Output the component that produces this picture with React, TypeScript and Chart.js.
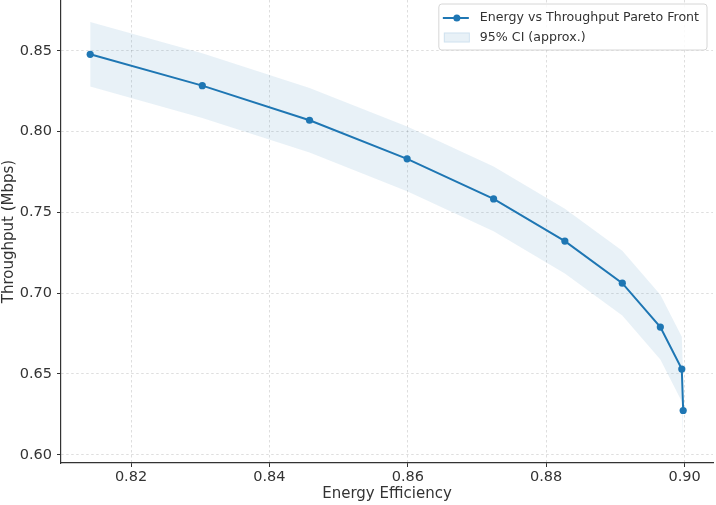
import { useEffect, useRef } from "react";
import { Chart, registerables } from "chart.js";

Chart.register(...registerables);

// Pareto front: energy efficiency vs throughput
const efficiency = [0.8141, 0.8303, 0.8458, 0.8599, 0.8724, 0.8827, 0.891, 0.8965, 0.8996, 0.8998];
const throughput = [0.8478, 0.8284, 0.807, 0.7831, 0.7583, 0.7322, 0.7062, 0.679, 0.653, 0.6274];
// approximate 95% confidence band around the front
const ciUpper = [0.8678, 0.8484, 0.827, 0.8031, 0.7783, 0.7522, 0.7262, 0.699, 0.673, 0.6474];
const ciLower = [0.8278, 0.8084, 0.787, 0.7631, 0.7383, 0.7122, 0.6862, 0.659, 0.633, 0.6074];

const xTicks = [0.82, 0.84, 0.86, 0.88, 0.9];
const yTicks = [0.6, 0.65, 0.7, 0.75, 0.8, 0.85];

const lineLabel = "Energy vs Throughput Pareto Front";
const bandLabel = "95% CI (approx.)";
const xTitle = "Energy Efficiency";
const yTitle = "Throughput (Mbps)";

const BLUE = "#1f77b4";
const BAND = "rgba(31,119,180,0.1)";
const FONT = "'DejaVu Sans', sans-serif";
const TEXT = "#333333";

const toPoints = (xs: number[], ys: number[]) => xs.map((x, i) => ({ x, y: ys[i] }));

// legend drawn inside the plot, upper-right corner
const insideLegend = {
  id: "insideLegend",
  afterDraw(chart: any) {
    const { ctx, chartArea } = chart;
    ctx.save();
    ctx.font = `12.6px ${FONT}`;
    const textW = Math.max(ctx.measureText(lineLabel).width, ctx.measureText(bandLabel).width);
    const w = textW + 49;
    const h = 46;
    const x0 = chartArea.right - 6 - w;
    const y0 = chartArea.top + 4;

    // frame
    const r = 3;
    ctx.beginPath();
    ctx.moveTo(x0 + r, y0);
    ctx.lineTo(x0 + w - r, y0);
    ctx.quadraticCurveTo(x0 + w, y0, x0 + w, y0 + r);
    ctx.lineTo(x0 + w, y0 + h - r);
    ctx.quadraticCurveTo(x0 + w, y0 + h, x0 + w - r, y0 + h);
    ctx.lineTo(x0 + r, y0 + h);
    ctx.quadraticCurveTo(x0, y0 + h, x0, y0 + h - r);
    ctx.lineTo(x0, y0 + r);
    ctx.quadraticCurveTo(x0, y0, x0 + r, y0);
    ctx.closePath();
    ctx.fillStyle = "rgba(255,255,255,0.85)";
    ctx.fill();
    ctx.strokeStyle = "#d6d6d6";
    ctx.lineWidth = 1;
    ctx.stroke();

    // line entry
    const y1 = y0 + 14;
    ctx.strokeStyle = BLUE;
    ctx.lineWidth = 2;
    ctx.beginPath();
    ctx.moveTo(x0 + 4, y1);
    ctx.lineTo(x0 + 30, y1);
    ctx.stroke();
    ctx.fillStyle = BLUE;
    ctx.beginPath();
    ctx.arc(x0 + 18, y1, 3.5, 0, Math.PI * 2);
    ctx.fill();

    // band entry
    const y2 = y0 + 33.5;
    ctx.fillStyle = BAND;
    ctx.fillRect(x0 + 5, y2 - 5, 26, 10);
    ctx.strokeStyle = "rgba(31,119,180,0.12)";
    ctx.lineWidth = 1;
    ctx.strokeRect(x0 + 5.5, y2 - 4.5, 25, 9);

    ctx.fillStyle = TEXT;
    ctx.textBaseline = "middle";
    ctx.textAlign = "left";
    ctx.fillText(lineLabel, x0 + 41, y1);
    ctx.fillText(bandLabel, x0 + 41, y2);
    ctx.restore();
  },
};

export default function App() {
  const canvasRef = useRef<HTMLCanvasElement | null>(null);

  useEffect(() => {
    const canvas = canvasRef.current;
    if (!canvas) return;

    const grid = {
      color: "rgba(0,0,0,0.13)",
      lineWidth: 1,
      tickLength: 4,
      tickColor: "#333333",
      tickWidth: 1,
      tickBorderDash: [],
    };
    const border = { color: "#333333", width: 1.2, dash: [2.5, 2.5] };

    const chart = new Chart(canvas, {
      type: "line",
      data: {
        datasets: [
          {
            label: "ci-lower",
            data: toPoints(efficiency, ciLower),
            borderWidth: 0,
            pointRadius: 0,
            fill: false,
            backgroundColor: BAND,
            borderColor: "rgba(0,0,0,0)",
          },
          {
            label: bandLabel,
            data: toPoints(efficiency, ciUpper),
            borderWidth: 0,
            pointRadius: 0,
            fill: "-1",
            backgroundColor: BAND,
            borderColor: "rgba(0,0,0,0)",
          },
          {
            label: lineLabel,
            data: toPoints(efficiency, throughput),
            borderColor: BLUE,
            backgroundColor: BLUE,
            borderWidth: 2,
            pointRadius: 3.6,
            pointBorderWidth: 0,
            pointBackgroundColor: BLUE,
            fill: false,
            tension: 0,
          },
        ],
      },
      options: {
        responsive: false,
        animation: false,
        devicePixelRatio: 1,
        layout: { autoPadding: false, padding: { top: 0, right: 3, left: 0, bottom: 0 } },
        plugins: {
          legend: { display: false },
          tooltip: { enabled: false },
        },
        scales: {
          x: {
            type: "linear",
            min: 0.80988,
            max: 0.90411,
            afterBuildTicks: (s: any) => {
              s.ticks = xTicks.map((v) => ({ value: v }));
            },
            afterFit: (s: any) => {
              s.height = 42;
            },
            ticks: {
              callback: (v: any) => Number(v).toFixed(2),
              font: { family: FONT, size: 14.5 },
              color: TEXT,
              padding: 2,
              maxRotation: 0,
              autoSkip: false,
            },
            grid,
            border,
            title: {
              display: true,
              text: xTitle,
              font: { family: FONT, size: 15 },
              color: TEXT,
              padding: { top: 0, bottom: 2 },
            },
          },
          y: {
            type: "linear",
            min: 0.5949,
            max: 0.8814,
            afterBuildTicks: (s: any) => {
              s.ticks = yTicks.map((v) => ({ value: v }));
            },
            afterFit: (s: any) => {
              s.width = 61;
              // ticks sit inside the range, so no extra room is needed at the ends
              s.paddingTop = 0;
              s.paddingBottom = 0;
            },
            ticks: {
              callback: (v: any) => Number(v).toFixed(2),
              font: { family: FONT, size: 14.5 },
              color: TEXT,
              padding: 5,
              autoSkip: false,
            },
            grid,
            border,
            title: {
              display: true,
              text: yTitle,
              font: { family: FONT, size: 15 },
              color: TEXT,
              padding: { top: 0, bottom: 0 },
            },
          },
        },
      },
      plugins: [insideLegend],
    });

    return () => chart.destroy();
  }, []);

  return (
    <div style={{ position: "absolute", left: 0, top: 0, width: 716, height: 505, background: "#fff" }}>
      <canvas ref={canvasRef} width={716} height={505} style={{ width: 716, height: 505, display: "block" }} />
    </div>
  );
}
